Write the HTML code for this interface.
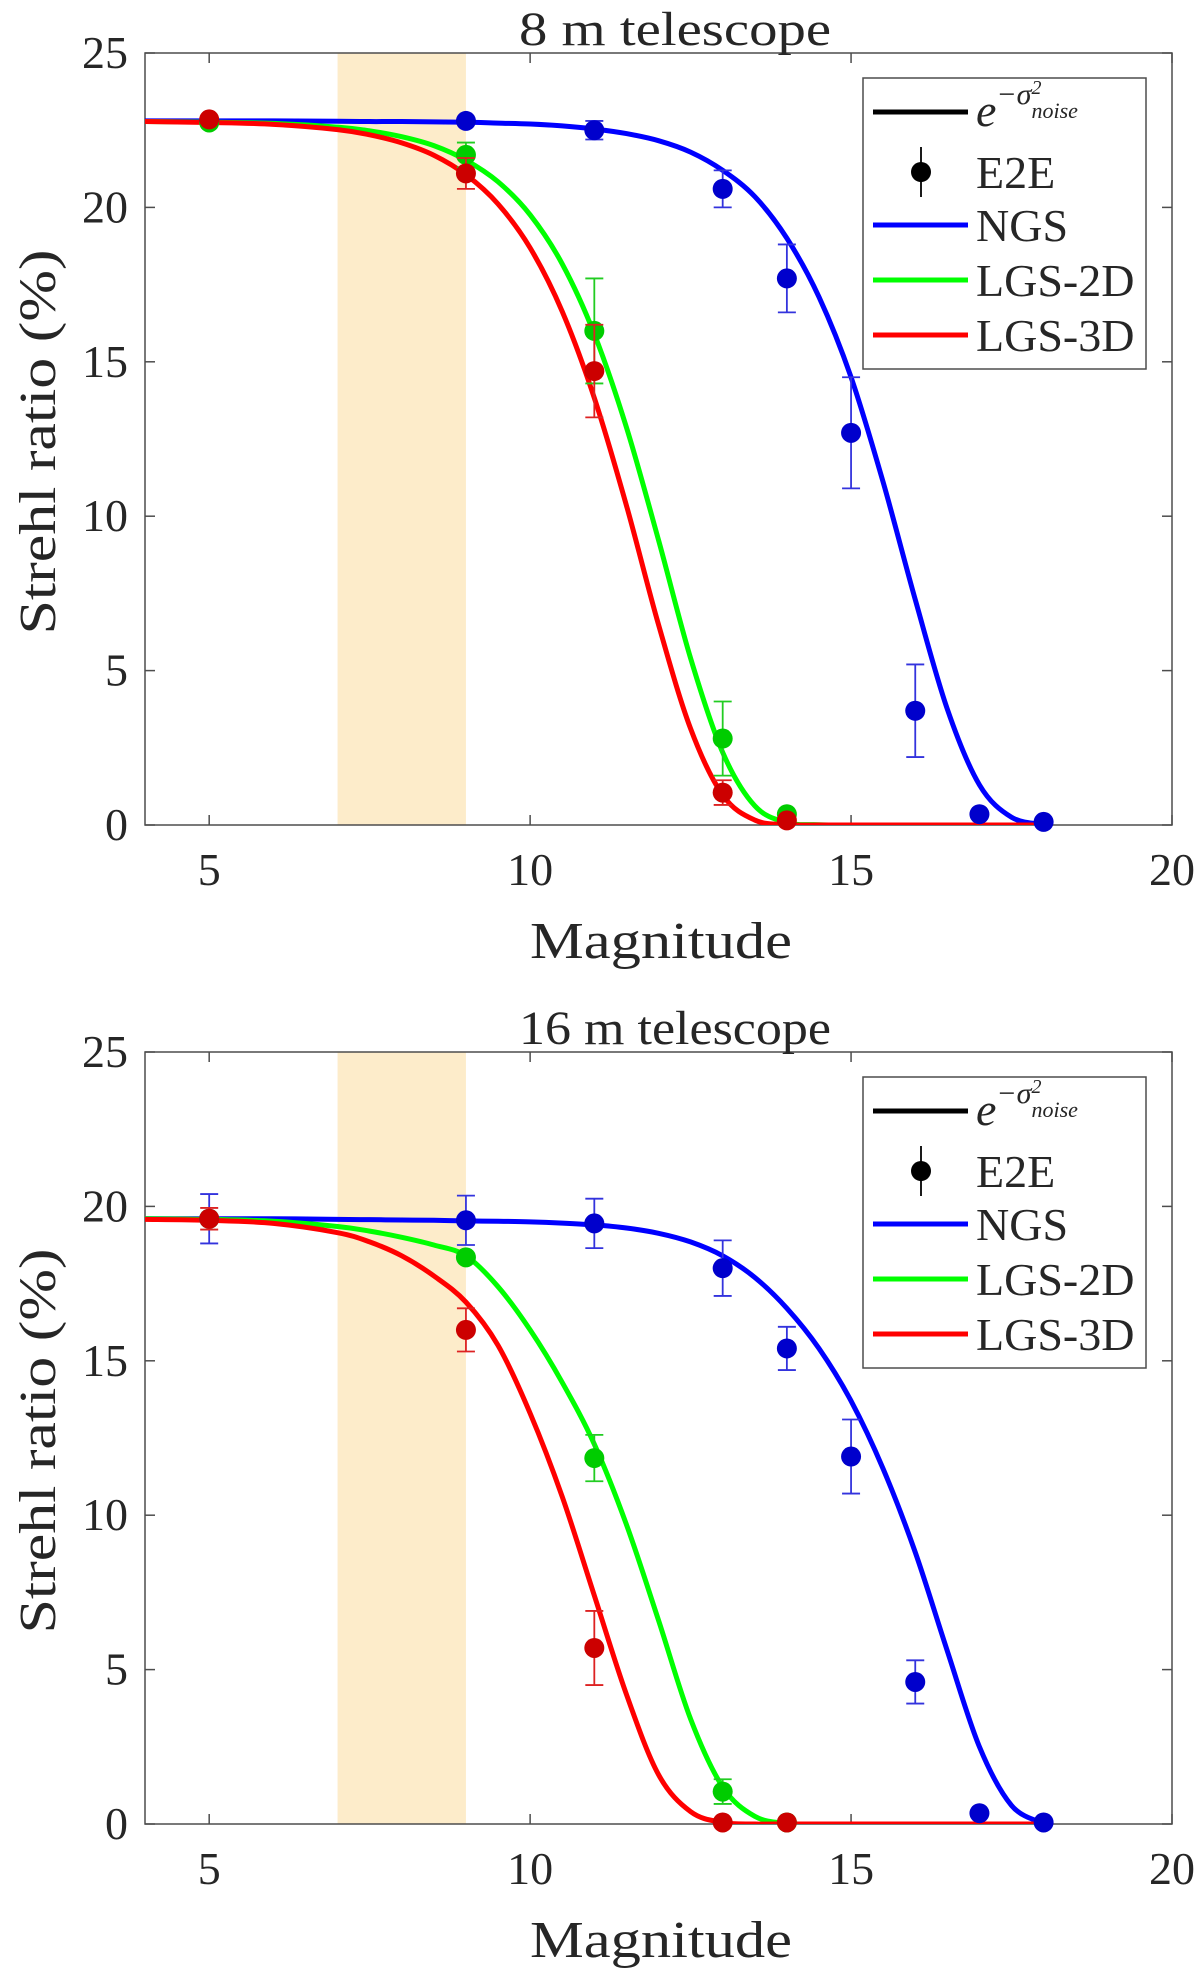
<!DOCTYPE html>
<html><head><meta charset="utf-8">
<style>
html,body{margin:0;padding:0;background:#fff;}
svg{display:block;}
</style></head>
<body>
<svg id="fig" width="1200" height="1969" viewBox="0 0 1200 1969" xmlns="http://www.w3.org/2000/svg" font-family="'Liberation Serif', 'DejaVu Serif', serif"></svg>
<script>
// ---- data ----
const curveX = [4,5,6,7,7.5,8,8.5,9,9.5,10,10.5,11,11.5,12,12.5,13,13.5,14,14.5,15,15.5,16,16.5,17,17.5,18];
// 8 m telescope fitted curves
const top_ngs   = [22.8,22.8,22.8,22.79,22.78,22.78,22.77,22.76,22.73,22.7,22.64,22.54,22.39,22.16,21.79,21.2,20.35,19.0,17.1,14.5,11.1,7.3,3.75,1.3,0.25,0.02];
const top_lgs2d = [22.78,22.76,22.72,22.6,22.48,22.29,22.0,21.53,20.83,19.76,18.17,15.9,12.88,9.23,5.4,2.35,0.62,0.08,0.01,0,0,0,0,0,0,0];
const top_lgs3d = [22.78,22.75,22.69,22.52,22.35,22.09,21.69,21.06,20.11,18.69,16.63,13.83,10.35,6.49,3.12,0.97,0.16,0.01,0,0,0,0,0,0,0,0];
// 16 m telescope fitted curves
const bot_ngs   = [19.6,19.6,19.6,19.58,19.57,19.56,19.55,19.53,19.52,19.5,19.46,19.4,19.3,19.13,18.85,18.4,17.7,16.7,15.4,13.7,11.5,8.8,5.6,2.5,0.6,0.02];
const bot_lgs2d = [19.6,19.58,19.52,19.35,19.2,19.0,18.75,18.4,17.4,16.0,14.3,12.3,9.7,6.6,3.4,1.2,0.25,0.02,0,0,0,0,0,0,0,0];
const bot_lgs3d = [19.58,19.55,19.45,19.15,18.85,18.4,17.75,16.9,15.5,13.3,10.6,7.4,4.2,1.6,0.4,0.05,0,0,0,0,0,0,0,0,0,0];
// E2E points: magnitude, value, error
const top_ngs_mag = [5,9,11,13,14,15,16,17,18];
const top_ngs_val = [22.8,22.8,22.5,20.6,17.7,12.7,3.7,0.35,0.1];
const top_ngs_err = [0,0,0.3,0.6,1.1,1.8,1.5,0,0];
const top_g_mag = [5,9,11,13,14];
const top_g_val = [22.75,21.7,16.0,2.8,0.35];
const top_g_err = [0,0.4,1.7,1.2,0];
const top_r_mag = [5,9,11,13,14];
const top_r_val = [22.85,21.1,14.7,1.05,0.15];
const top_r_err = [0,0.5,1.5,0.4,0];
const bot_ngs_mag = [5,9,11,13,14,15,16,17,18];
const bot_ngs_val = [19.6,19.55,19.45,18.0,15.4,11.9,4.6,0.35,0.05];
const bot_ngs_err = [0.8,0.8,0.8,0.9,0.7,1.2,0.7,0,0];
const bot_g_mag = [5,9,11,13,14];
const bot_g_val = [19.6,18.35,11.85,1.05,0.05];
const bot_g_err = [0,0,0.75,0.4,0];
const bot_r_mag = [5,9,11,13,14];
const bot_r_val = [19.6,16.0,5.7,0.05,0.05];
const bot_r_err = [0.35,0.7,1.2,0,0];
const xTicks = [5,10,15,20];
const yTicks = [0,5,10,15,20,25];
const legendLabels = ["E2E","NGS","LGS-2D","LGS-3D"];

const NS="http://www.w3.org/2000/svg";
const svg=document.getElementById('fig');
const FF="'Liberation Serif', 'DejaVu Serif', serif";
function el(tag,attrs,parent){const e=document.createElementNS(NS,tag);for(const k in attrs)e.setAttribute(k,attrs[k]);if(tag==='text'){e.setAttribute('font-family',FF);if(!attrs.fill)e.setAttribute('fill','#262626');}(parent||svg).appendChild(e);return e;}

const L=145,R=1172,xmin=4,xmax=20;
function sx(v){return L+(v-xmin)/(xmax-xmin)*(R-L);}

function panel(off,title,curves,points,pname){
  const T=53+off,B=825+off;
  function sy(v){return B-v/25*(B-T);}
  const g=el('g',{});
  
  
  const cid='clip'+off;
  const cp=el('clipPath',{id:cid},g);el('rect',{x:L,y:T,width:R-L,height:B-T},cp);
  const sh=el('rect',{x:sx(7),y:T,width:sx(9)-sx(7),height:B-T,fill:'#fdecca'},g);
  
  
  const box=el('rect',{x:L,y:T,width:R-L,height:B-T,fill:'none',stroke:'#4d4d4d','stroke-width':1.5},g);
  
  
  xTicks.forEach(t=>{
    const x=sx(t);
    el('line',{x1:x,y1:B,x2:x,y2:B-10,stroke:'#4d4d4d','stroke-width':1.5},g);
    el('line',{x1:x,y1:T,x2:x,y2:T+10,stroke:'#4d4d4d','stroke-width':1.5},g);
    const tx=el('text',{x:x,y:B+60,'font-size':46,'text-anchor':'middle'},g);tx.textContent=t;
    
    
  });
  yTicks.forEach(t=>{
    const y=sy(t);
    el('line',{x1:L,y1:y,x2:L+10,y2:y,stroke:'#4d4d4d','stroke-width':1.5},g);
    el('line',{x1:R,y1:y,x2:R-10,y2:y,stroke:'#4d4d4d','stroke-width':1.5},g);
    const ty=el('text',{x:128,y:y+15,'font-size':46,'text-anchor':'end'},g);ty.textContent=t;
    
    
  });
  const cg=el('g',{'clip-path':'url(#'+cid+')'},g);
  curves.forEach(c=>{
    const pts=curveX.map((m,i)=>[sx(m),sy(c.v[i])]);
    let d='M'+pts[0][0]+','+pts[0][1];
    for(let i=0;i<pts.length-1;i++){
      const p0=pts[Math.max(0,i-1)],p1=pts[i],p2=pts[i+1],p3=pts[Math.min(pts.length-1,i+2)];
      const c1=[p1[0]+(p2[0]-p0[0])/6,p1[1]+(p2[1]-p0[1])/6];
      const c2=[p2[0]-(p3[0]-p1[0])/6,p2[1]-(p3[1]-p1[1])/6];
      d+=' C'+c1[0]+','+c1[1]+' '+c2[0]+','+c2[1]+' '+p2[0]+','+p2[1];
    }
    const p=el('path',{d:d,fill:'none',stroke:c.col,'stroke-width':5,'stroke-linejoin':'round'},cg);
    
    
  });
  points.forEach(s=>{
    s.m.forEach((m,i)=>{
      const x=sx(m),y=sy(s.v[i]),e=s.e[i];
      if(e>0){
        const y1=sy(s.v[i]+e),y2=sy(s.v[i]-e);
        el('line',{x1:x,y1:y1,x2:x,y2:y2,stroke:s.ec,'stroke-width':1.8},g);
        el('line',{x1:x-9,y1:y1,x2:x+9,y2:y1,stroke:s.ec,'stroke-width':1.8},g);
        el('line',{x1:x-9,y1:y2,x2:x+9,y2:y2,stroke:s.ec,'stroke-width':1.8},g);
      }
      const c=el('circle',{cx:x,cy:y,r:10,fill:s.col},g);
      
      
    });
  });
  const tt=el('text',{x:675,y:45+off,'font-size':48,'text-anchor':'middle',textLength:312,lengthAdjust:'spacingAndGlyphs'},g);tt.textContent=title;
  
  
  const xl=el('text',{x:661,y:958+off,'font-size':52,'text-anchor':'middle',textLength:262,lengthAdjust:'spacingAndGlyphs'},g);xl.textContent='Magnitude';
  
  
  const yl=el('text',{x:0,y:0,'font-size':52,'text-anchor':'middle',textLength:385,lengthAdjust:'spacingAndGlyphs',transform:'translate(55,'+(442+off)+') rotate(-90)'},g);yl.textContent='Strehl ratio (%)';
  
  
  const lg=el('g',{},g);
  
  
  el('rect',{x:863,y:78+off,width:283,height:291,fill:'#fff',stroke:'#4d4d4d','stroke-width':1.5},lg);
  const rows=[112,172,225,280,335];
  el('line',{x1:873,y1:rows[0]+off,x2:968,y2:rows[0]+off,stroke:'#000','stroke-width':5},lg);
  const et=el('text',{x:976,y:rows[0]+off+14,'font-size':46,'font-style':'italic'},lg);
  et.textContent='e';
  const ts=el('tspan',{dy:-22,'font-size':30},et);ts.textContent='−σ';
  const ts2=el('tspan',{dy:-10,'font-size':20},et);ts2.textContent='2';
  const ts3=el('tspan',{dx:-10,dy:24,'font-size':22},et);ts3.textContent='noise';
  
  
  el('line',{x1:921,y1:rows[1]+off-25,x2:921,y2:rows[1]+off+25,stroke:'#000','stroke-width':1.8},lg);
  el('circle',{cx:921,cy:rows[1]+off,r:10,fill:'#000'},lg);
  const cols=['#0000ff','#00ff00','#ff0000'];
  legendLabels.forEach((lab,i)=>{
    if(i>0) el('line',{x1:873,y1:rows[i+1]+off,x2:968,y2:rows[i+1]+off,stroke:cols[i-1],'stroke-width':5},lg);
    const t=el('text',{x:976,y:rows[i+1]+off+16,'font-size':46},lg);t.textContent=lab;
    
    
  });
}

panel(0,'8 m telescope',
  [{v:top_ngs,col:'#0000ff',name:'ngs-curve-8m'},{v:top_lgs2d,col:'#00ff00',name:'lgs2d-curve-8m'},{v:top_lgs3d,col:'#ff0000',name:'lgs3d-curve-8m'}],
  [{m:top_ngs_mag,v:top_ngs_val,e:top_ngs_err,col:'#0000cc',ec:'#3333dd',name:'ngs-point-8m'},
   {m:top_g_mag,v:top_g_val,e:top_g_err,col:'#00cc00',ec:'#22cc22',name:'lgs2d-point-8m'},
   {m:top_r_mag,v:top_r_val,e:top_r_err,col:'#cc0000',ec:'#dd2222',name:'lgs3d-point-8m'}],
  'panel-8m');
panel(999,'16 m telescope',
  [{v:bot_ngs,col:'#0000ff',name:'ngs-curve-16m'},{v:bot_lgs2d,col:'#00ff00',name:'lgs2d-curve-16m'},{v:bot_lgs3d,col:'#ff0000',name:'lgs3d-curve-16m'}],
  [{m:bot_ngs_mag,v:bot_ngs_val,e:bot_ngs_err,col:'#0000cc',ec:'#3333dd',name:'ngs-point-16m'},
   {m:bot_g_mag,v:bot_g_val,e:bot_g_err,col:'#00cc00',ec:'#22cc22',name:'lgs2d-point-16m'},
   {m:bot_r_mag,v:bot_r_val,e:bot_r_err,col:'#cc0000',ec:'#dd2222',name:'lgs3d-point-16m'}],
  'panel-16m');
</script>
</body></html>
